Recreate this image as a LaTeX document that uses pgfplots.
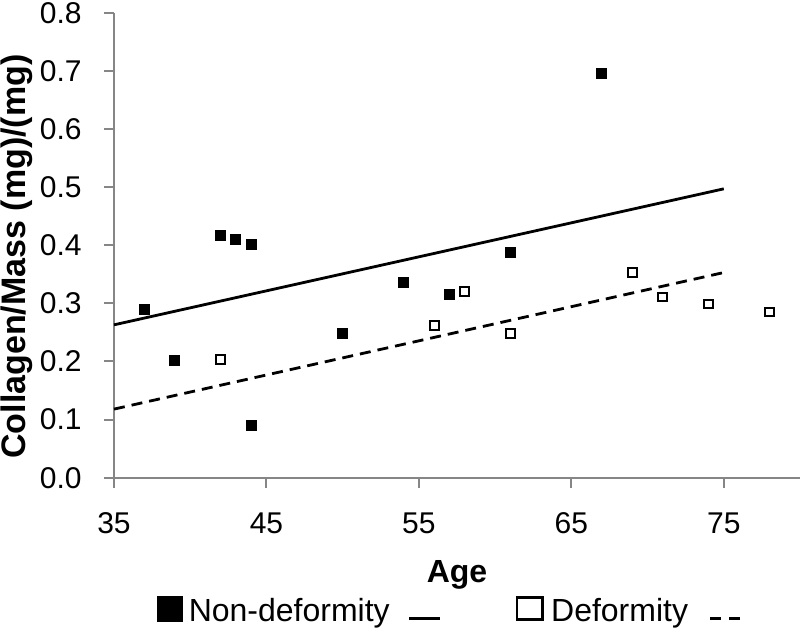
\documentclass[border=0pt]{standalone}
\usepackage{pgfplots}
\pgfplotsset{compat=1.18}
\usepackage{fontspec}
\setmainfont{Liberation Sans}
\definecolor{axgray}{HTML}{868686}
\begin{document}
\begin{tikzpicture}
\begin{axis}[
 scale only axis, width=343pt, height=232.5pt,
 xmin=35, xmax=80, ymin=0, ymax=0.8,
 axis x line*=bottom, axis y line*=left,
 axis line style={axgray, line width=1pt},
 xtick={35,45,55,65,75}, ytick={0,0.1,0.2,0.3,0.4,0.5,0.6,0.7,0.8},
 tick align=outside, major tick length=5pt,
 tick style={axgray, line width=1pt},
 minor tick num=0,
 /pgf/number format/assume math mode=true,
 ticklabel style={font=\fontsize{15}{18}\selectfont, text=black},
 xticklabel style={anchor=base, yshift=-23pt},
 yticklabel style={anchor=east, inner xsep=0pt, xshift=-11pt, /pgf/number format/.cd, fixed, fixed zerofill, precision=1},
 xlabel={Age}, ylabel={Collagen/Mass (mg)/(mg)},
 x label style={font=\fontsize{16}{19}\selectfont\bfseries, at={(axis description cs:0.5,-0.2258)}, anchor=base},
 y label style={font=\fontsize{17}{20}\selectfont\bfseries, at={(axis description cs:-0.1297,0.4757)}, anchor=base},
 legend columns=4,
 legend style={draw=none, fill=none, inner sep=0pt, outer sep=0pt,
   at={(axis description cs:0.0627,-0.2882)}, anchor=west,
   font=\fontsize{16}{19}\selectfont,
   nodes={inner xsep=0pt, inner ysep=2pt},
   /tikz/column 1/.style={column sep=3pt},
   /tikz/column 2/.style={column sep=9pt},
   /tikz/column 3/.style={column sep=0pt},
   /tikz/column 4/.style={column sep=36pt},
   /tikz/column 5/.style={column sep=3.8pt},
   /tikz/column 6/.style={column sep=10.4pt}},
 clip=false,
]
\addplot[only marks, mark=square*, mark size=2.5pt, mark options={solid, fill=black, draw=black, line width=0pt},
  legend image code/.code={\fill[black] (0pt,-4.75pt) rectangle (12.5pt,7.75pt);}]
  coordinates {(37,0.289) (39,0.201) (42,0.416) (43,0.409) (44,0.401) (44,0.090) (50,0.248) (54,0.336) (57,0.315) (61,0.387) (67,0.696)};
\addlegendentry{Non-deformity}
\addplot[black, line width=1.4pt, no marks,
  legend image code/.code={\path[draw=none] (0pt,0pt) -- (15.5pt,0pt); \draw[black, line width=1.4pt] (0pt,-3.5pt) -- (15.5pt,-3.5pt);}]
  coordinates {(35,0.263) (75,0.497)};
\addlegendentry{\mbox{}}
\addplot[only marks, mark=square, mark size=2.2pt, mark options={solid, draw=black, fill=white, line width=1pt},
  legend image code/.code={\path[draw=none] (0pt,0pt) -- (14pt,0pt); \draw[black, fill=white, line width=1.4pt] (0.7pt,-4.05pt) rectangle (13.3pt,7.05pt);}]
  coordinates {(42,0.204) (56,0.262) (58,0.321) (61,0.248) (69,0.353) (71,0.311) (74,0.299) (78,0.285)};
\addlegendentry{Deformity}
\addplot[black, line width=1.4pt, no marks, dash pattern=on 5.5pt off 3.5pt,
  legend image code/.code={\path[draw=none] (0pt,0pt) -- (15pt,0pt); \draw[black, line width=1.4pt, dash pattern=on 5.5pt off 4pt] (0pt,-3.5pt) -- (15pt,-3.5pt);}]
  coordinates {(35,0.118) (75,0.353)};
\addlegendentry{\mbox{}}
\end{axis}
\pgfresetboundingbox
\path (-57pt,-78.15pt) rectangle (343pt,238.85pt);
\end{tikzpicture}
\end{document}
